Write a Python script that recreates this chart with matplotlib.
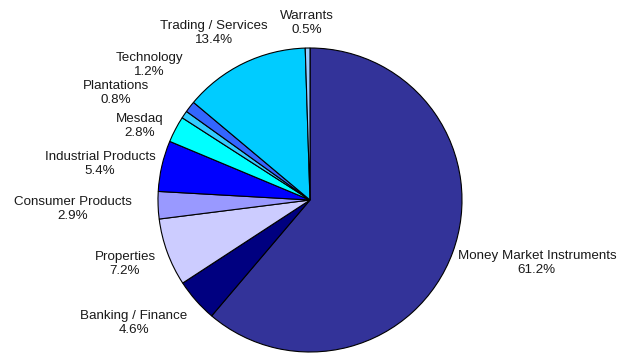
import matplotlib
matplotlib.use("Agg")
import matplotlib.pyplot as plt

categories = ["Money Market Instruments", "Banking / Finance", "Properties",
              "Consumer Products", "Industrial Products", "Mesdaq",
              "Plantations", "Technology", "Trading / Services", "Warrants"]
values = [61.2, 4.6, 7.2, 2.9, 5.4, 2.8, 0.8, 1.2, 13.4, 0.5]
colors = ["#333399", "#000080", "#CCCCFF", "#9999FF", "#0000FF", "#00FFFF",
          "#33CCFF", "#3366FF", "#00CCFF", "#99CCFF"]
# label positions in units of pie radius (relative to pie centre)
label_pos = [(1.493, -0.414), (-1.158, -0.809), (-1.217, -0.421),
             (-1.559, -0.059), (-1.382, 0.237), (-1.118, 0.487),
             (-1.276, 0.704), (-1.059, 0.888), (-0.632, 1.099),
             (-0.020, 1.164)]

plt.rcParams['font.family'] = ['Liberation Sans', 'DejaVu Sans']

W, H = 628, 354
fig = plt.figure(figsize=(W / 100, H / 100), dpi=100)
cx, cy, R = 310, 200, 152
ax = fig.add_axes([(cx - R) / W, (H - cy - R) / H, 2 * R / W, 2 * R / H])
ax.pie(values, colors=colors, startangle=90, counterclock=False, radius=1,
       wedgeprops=dict(edgecolor="black", linewidth=0.8))
ax.set_xlim(-1, 1)
ax.set_ylim(-1, 1)
ax.axis("off")

for name, v, (x, y) in zip(categories, values, label_pos):
    ax.text(x, y, f"{name}\n{v:.1f}%", ha="center", va="center",
            fontsize=9.6, color="#1a1a1a", linespacing=1.3, clip_on=False)

fig.savefig("out.png", dpi=100)
